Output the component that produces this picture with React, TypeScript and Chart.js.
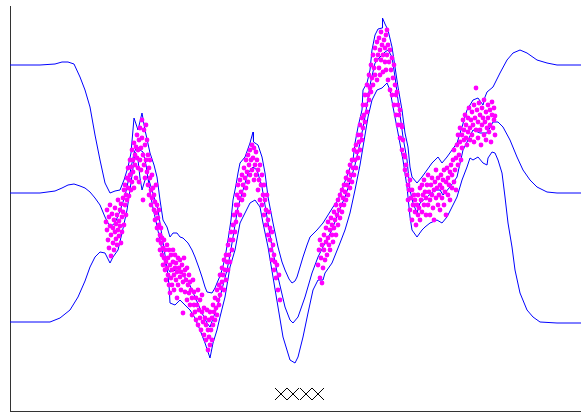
import React, { useEffect, useRef } from "react";
import { Chart, registerables } from "chart.js";

Chart.register(...registerables);

// Posterior upper band (mean + 2 sd)
const upperBand: number[][] = [
  [10, 335], [40, 335], [55, 336], [62, 338], [68, 338], [74, 336], [80, 323], [85, 310], [90, 293], [95, 265],
  [100, 240], [105, 217], [110, 207], [115, 209], [120, 210], [124, 220], [128, 233], [131, 247], [134, 282], [138, 270],
  [142, 287], [145, 270], [150, 247], [154, 235], [157, 223], [160, 200], [163, 180], [167, 173], [170, 163], [173, 167],
  [177, 167], [180, 163], [183, 162], [188, 157], [192, 150], [195, 143], [199, 132], [202, 123], [205, 113], [207, 108],
  [212, 107], [215, 112], [217, 117], [220, 124], [222, 130], [225, 142], [228, 160], [231, 180], [233, 200], [236, 215],
  [238, 227], [240, 237], [245, 243], [250, 257], [253, 268], [253.5, 258], [258, 255], [262, 243], [265, 227], [268, 203],
  [273, 177], [278, 153], [282, 138], [285, 130], [289, 121], [292, 117], [295, 119], [297, 123], [300, 133], [303, 143],
  [307, 155], [310, 163], [317, 170], [323, 177], [328, 185], [333, 193], [338, 200], [343, 213], [348, 227], [353, 240],
  [355, 257], [358, 273], [362, 290], [363, 310], [367, 317], [370, 330], [372, 350], [375, 365], [378, 371], [382, 372],
  [382.5, 382], [385, 376], [388, 370], [392, 353], [395, 333], [398, 313], [402, 290], [405, 267], [408, 253], [410, 233],
  [412, 223], [417, 217], [422, 223], [427, 230], [432, 237], [435, 240], [438, 243], [442, 237], [447, 243], [452, 250],
  [457, 257], [462, 273], [467, 290], [473, 300], [478, 302], [483, 295], [485, 303], [487, 308], [493, 313], [500, 327],
  [507, 340], [513, 347], [520, 350], [527, 347], [537, 340], [547, 337], [557, 335], [581, 335],
];

// Posterior mean
const meanCurve: number[][] = [
  [10, 207], [40, 207], [55, 209], [62, 212], [68, 215], [74, 216], [80, 214], [85, 212], [90, 208], [95, 202],
  [100, 195], [105, 183], [110, 173], [115, 177], [120, 189], [125, 204], [130, 227], [134, 247], [137, 254], [140, 250],
  [143, 248], [146, 235], [150, 208], [153, 192], [157, 174], [162, 150], [165, 136], [170, 128], [176, 130], [182, 126],
  [188, 119], [195, 103], [202, 87], [207, 77], [210, 73], [215, 87], [220, 103], [227, 130], [230, 145], [233, 163],
  [238, 193], [243, 210], [248, 227], [253, 233], [257, 230], [262, 213], [267, 183], [272, 153], [278, 123], [285, 93],
  [290, 80], [293, 77], [298, 83], [305, 103], [312, 127], [318, 143], [325, 157], [332, 170], [338, 187], [345, 203],
  [350, 218], [355, 235], [360, 257], [365, 283], [370, 315], [375, 337], [380, 343], [385, 348], [388, 350], [392, 343],
  [395, 323], [398, 300], [403, 263], [407, 240], [410, 210], [413, 197], [417, 187], [420, 197], [427, 203], [435, 210],
  [440, 210], [443, 205], [450, 213], [457, 223], [463, 250], [468, 260], [473, 270], [480, 267], [487, 267], [493, 278],
  [498, 278], [503, 273], [510, 260], [517, 243], [523, 230], [530, 220], [537, 213], [547, 208], [557, 207], [581, 207],
];

// Posterior lower band (mean - 2 sd)
const lowerBand: number[][] = [
  [10, 78], [50, 78], [60, 82], [70, 90], [78, 103], [85, 119], [90, 133], [95, 143], [100, 148], [105, 147],
  [110, 137], [113, 143], [118, 150], [122, 167], [127, 190], [130, 210], [133, 232], [135, 248], [138, 240], [140, 222],
  [142, 210], [145, 220], [148, 223], [152, 210], [158, 190], [162, 164], [165, 145], [167, 132], [169, 115], [170, 97],
  [175, 95], [180, 100], [183, 97], [190, 90], [195, 82], [200, 70], [205, 57], [210, 42], [213, 57], [217, 70],
  [220, 83], [225, 103], [230, 133], [235, 150], [240, 177], [245, 187], [250, 197], [255, 200], [260, 193], [263, 177],
  [268, 153], [273, 123], [278, 93], [283, 63], [290, 40], [295, 37], [298, 43], [303, 63], [308, 87], [313, 110],
  [318, 120], [323, 120], [325, 127], [332, 137], [340, 157], [345, 170], [350, 187], [355, 210], [360, 235], [365, 265],
  [368, 283], [372, 300], [377, 310], [382, 312], [387, 317], [390, 310], [393, 293], [398, 267], [403, 240], [407, 213],
  [410, 183], [412, 170], [417, 163], [422, 170], [425, 173], [430, 177], [437, 180], [442, 177], [447, 183], [452, 193],
  [457, 203], [462, 220], [467, 233], [470, 242], [473, 240], [478, 243], [483, 237], [487, 235], [488, 242], [492, 248],
  [495, 247], [498, 240], [502, 227], [505, 203], [508, 177], [512, 153], [515, 130], [520, 107], [527, 90], [533, 83],
  [540, 78], [557, 77], [581, 77],
];

// Observations, first cluster
const obsLeft: number[][] = [
  [106, 178], [107, 170], [107, 190], [108, 160], [109, 183], [109, 152], [110, 174], [110, 195], [111, 165], [111, 144],
  [112, 186], [113, 157], [113, 172], [114, 180], [114, 150], [115, 168], [115, 192], [116, 161], [116, 176], [117, 185],
  [117, 155], [118, 170], [118, 200], [119, 179], [119, 164], [120, 190], [120, 174], [121, 157], [121, 196], [122, 183],
  [122, 168], [123, 202], [123, 188], [124, 175], [124, 210], [125, 195], [125, 215], [126, 185], [126, 205], [127, 222],
  [127, 200], [128, 212], [128, 232], [129, 204], [129, 220], [130, 240], [130, 225], [131, 210], [131, 233], [132, 250],
  [132, 218], [133, 240], [133, 228], [134, 257], [134, 212], [135, 245], [135, 235], [136, 253], [136, 222], [137, 265],
  [137, 242], [138, 250], [138, 232], [139, 260], [139, 218], [140, 240], [140, 272], [141, 252], [141, 230], [142, 280],
  [142, 262], [143, 245], [143, 200], [144, 235], [144, 270], [145, 255], [145, 222], [146, 275], [146, 240], [147, 228],
  [147, 260], [148, 215], [148, 245], [149, 232], [149, 205], [150, 222], [150, 240], [151, 210], [151, 195], [152, 225],
  [152, 202], [153, 212], [154, 190], [154, 205], [155, 180], [155, 198], [156, 215], [156, 187], [157, 172], [157, 195],
  [158, 182], [158, 160], [159, 175], [159, 190], [160, 165], [160, 150], [161, 172], [161, 157], [162, 145], [162, 162],
  [163, 135], [163, 152], [164, 160], [164, 142], [165, 130], [165, 150], [166, 138], [166, 120], [167, 155], [167, 132],
  [168, 125], [168, 142], [169, 150], [169, 115], [170, 135], [170, 107], [171, 122], [171, 145], [172, 130], [172, 115],
  [173, 138], [173, 150], [174, 125], [174, 110], [175, 132], [175, 145], [176, 120], [176, 137], [177, 128], [177, 102],
  [178, 142], [178, 115], [179, 132], [180, 123], [180, 140], [181, 110], [181, 128], [182, 135], [183, 118], [183, 87],
  [184, 125], [184, 142], [185, 108], [185, 130], [186, 120], [187, 132], [187, 100], [188, 115], [189, 125], [189, 107],
  [190, 95], [190, 118], [191, 110], [192, 102], [192, 85], [193, 120], [194, 95], [194, 108], [195, 88], [196, 102],
  [196, 80], [197, 95], [198, 110], [198, 75], [199, 90], [200, 82], [200, 100], [201, 70], [202, 88], [202, 105],
  [203, 78], [204, 65], [204, 92], [205, 82], [206, 60], [206, 75], [207, 90], [208, 50], [208, 70], [209, 80],
  [209, 63], [210, 55], [210, 88], [211, 70], [212, 82], [212, 60], [213, 95], [213, 75], [214, 88], [215, 102],
  [215, 80], [216, 92], [217, 110], [217, 85], [218, 100], [219, 115], [219, 95], [220, 125], [220, 105], [221, 112],
  [222, 132], [222, 118], [223, 125], [224, 140], [224, 110], [225, 130], [226, 145], [226, 120], [227, 138], [228, 155],
  [228, 130], [229, 145], [230, 160], [230, 138], [231, 168], [232, 150], [233, 175], [233, 160], [234, 185], [235, 168],
  [236, 195], [236, 178], [237, 205], [237, 188], [238, 215], [238, 195], [239, 202], [240, 220], [240, 185], [241, 208],
  [242, 225], [242, 200], [243, 215], [244, 232], [244, 205], [245, 222], [246, 240], [246, 212], [247, 228], [248, 245],
  [248, 218], [249, 235], [250, 250], [250, 225], [251, 240], [252, 255], [252, 230], [253, 242], [254, 252], [254, 220],
  [255, 235], [256, 248], [256, 225], [257, 240], [258, 230], [258, 210], [259, 220], [260, 235], [260, 200], [261, 215],
  [262, 225], [262, 195], [263, 205], [264, 185], [264, 215], [265, 200], [266, 175], [266, 190], [267, 205], [268, 180],
  [268, 165], [269, 188], [270, 160], [270, 172], [271, 150], [272, 168], [272, 140], [273, 155], [274, 130], [274, 145],
  [275, 138], [276, 122], [277, 135], [278, 110], [279, 125], [280, 100],
];

// Observations, second cluster
const obsRight: number[][] = [
  [318, 135], [319, 150], [320, 122], [320, 160], [321, 142], [322, 117], [322, 155], [323, 132], [324, 150], [324, 165],
  [325, 140], [326, 158], [326, 172], [327, 145], [328, 162], [328, 178], [329, 155], [330, 170], [330, 150], [331, 182],
  [332, 165], [332, 175], [333, 158], [334, 188], [334, 172], [335, 180], [336, 165], [336, 195], [337, 185], [338, 175],
  [338, 200], [339, 190], [340, 205], [340, 182], [341, 195], [342, 210], [342, 188], [343, 202], [344, 215], [344, 195],
  [345, 208], [346, 222], [346, 200], [347, 215], [348, 228], [348, 205], [349, 220], [350, 235], [350, 212], [351, 225],
  [352, 240], [352, 218], [353, 232], [354, 250], [354, 225], [355, 240], [356, 255], [356, 232], [357, 248], [358, 265],
  [358, 242], [359, 258], [360, 275], [360, 250], [361, 265], [362, 282], [362, 260], [363, 295], [363, 272], [364, 285],
  [365, 305], [365, 278], [366, 295], [367, 315], [367, 288], [368, 305], [369, 325], [369, 300], [370, 312], [371, 335],
  [371, 308], [372, 322], [373, 345], [373, 315], [374, 332], [375, 352], [375, 325], [376, 340], [377, 358], [377, 320],
  [378, 345], [379, 332], [379, 362], [380, 350], [380, 325], [381, 340], [381, 368], [382, 355], [383, 345], [383, 328],
  [384, 360], [385, 338], [385, 352], [386, 365], [386, 330], [387, 370], [387, 345], [388, 355], [388, 320], [389, 338],
  [390, 350], [390, 310], [391, 330], [392, 342], [392, 305], [393, 322], [394, 335], [394, 295], [395, 315], [396, 305],
  [396, 285], [397, 308], [398, 295], [398, 275], [399, 285], [400, 290], [400, 262], [401, 275], [402, 273], [402, 250],
  [403, 260], [404, 245], [405, 243], [405, 230], [406, 235], [407, 225], [408, 215], [408, 200], [409, 210], [410, 220],
  [410, 190], [411, 202], [412, 210], [412, 180], [413, 195], [414, 205], [415, 188], [415, 200], [416, 175], [417, 195],
  [418, 205], [418, 185], [419, 192], [420, 212], [420, 180], [421, 200], [422, 188], [422, 215], [423, 205], [424, 195],
  [424, 220], [425, 208], [426, 185], [426, 202], [427, 215], [428, 195], [428, 225], [429, 208], [430, 200], [430, 185],
  [431, 215], [432, 205], [432, 222], [433, 192], [434, 210], [434, 180], [435, 218], [436, 202], [436, 230], [437, 212],
  [438, 195], [438, 222], [439, 205], [440, 215], [440, 190], [441, 225], [442, 202], [442, 212], [443, 220], [444, 195],
  [444, 230], [445, 208], [446, 218], [446, 185], [447, 232], [448, 205], [448, 222], [449, 215], [450, 228], [450, 200],
  [451, 235], [452, 212], [452, 225], [453, 240], [454, 218], [454, 250], [455, 230], [456, 242], [456, 210], [457, 255],
  [458, 235], [458, 265], [459, 245], [460, 258], [460, 272], [461, 240], [462, 265], [462, 252], [463, 280], [464, 260],
  [464, 270], [465, 285], [466, 262], [466, 275], [467, 255], [468, 282], [468, 268], [469, 292], [470, 272], [470, 260],
  [471, 280], [472, 288], [472, 265], [473, 275], [474, 295], [474, 258], [475, 282], [476, 312], [476, 270], [477, 290],
  [478, 262], [478, 278], [479, 297], [480, 270], [480, 285], [481, 255], [482, 292], [482, 275], [483, 282], [484, 265],
  [484, 300], [485, 278], [486, 288], [486, 260], [487, 272], [488, 295], [488, 282], [489, 268], [490, 290], [490, 275],
  [491, 258], [492, 285], [492, 298], [493, 272], [494, 280], [494, 292], [495, 265], [495, 284],
];

// Inducing inputs (marked with x)
const inducingX: number[] = [281, 293, 306, 318];
const inducingLevel = 6;

const X_MIN = 10;
const X_MAX = 581;
const Y_MIN = -11;
const Y_MAX = 394;

export default function App() {
  const ref = useRef<HTMLCanvasElement | null>(null);

  useEffect(() => {
    document.body.style.margin = "0";
    const toPts = (a: number[][]) => a.map(([x, y]) => ({ x, y }));
    const line = (a: number[][]) => ({
      data: toPts(a),
      showLine: true,
      borderColor: "#0000ff",
      borderWidth: 1,
      pointRadius: 0,
      fill: false,
      tension: 0,
      order: 2,
    });
    const chart = new Chart(ref.current as HTMLCanvasElement, {
      type: "scatter",
      data: {
        datasets: [
          {
            data: toPts([...obsLeft, ...obsRight]),
            backgroundColor: "#ff00ff",
            borderWidth: 0,
            pointRadius: 2.4,
            order: 1,
          } as any,
          {
            data: inducingX.map((x) => ({ x, y: inducingLevel })),
            pointStyle: "crossRot",
            pointRadius: 8.5,
            borderColor: "#000000",
            borderWidth: 1,
            backgroundColor: "rgba(0,0,0,0)",
            order: 0,
          } as any,
          line(upperBand) as any,
          line(meanCurve) as any,
          line(lowerBand) as any,
        ],
      },
      options: {
        animation: false,
        responsive: false,
        maintainAspectRatio: false,
        events: [],
        layout: { autoPadding: false, padding: { left: 10, top: 6, right: 0, bottom: 3 } },
        plugins: { legend: { display: false }, tooltip: { enabled: false } },
        scales: {
          x: {
            type: "linear",
            min: X_MIN,
            max: X_MAX,
            ticks: { display: false },
            grid: { display: false, drawTicks: false },
            border: { display: true, color: "#333333", width: 1 },
            afterFit: (s: any) => {
              s.height = 0;
            },
          },
          y: {
            type: "linear",
            min: Y_MIN,
            max: Y_MAX,
            ticks: { display: false },
            grid: { display: false, drawTicks: false },
            border: { display: true, color: "#333333", width: 1 },
            afterFit: (s: any) => {
              s.width = 0;
            },
          },
        },
      },
    } as any);
    return () => chart.destroy();
  }, []);

  return (
    <div style={{ position: "absolute", left: 0, top: 0, width: 581, height: 414, background: "#ffffff" }}>
      <canvas ref={ref} width={581} height={414} style={{ display: "block" }} />
    </div>
  );
}
